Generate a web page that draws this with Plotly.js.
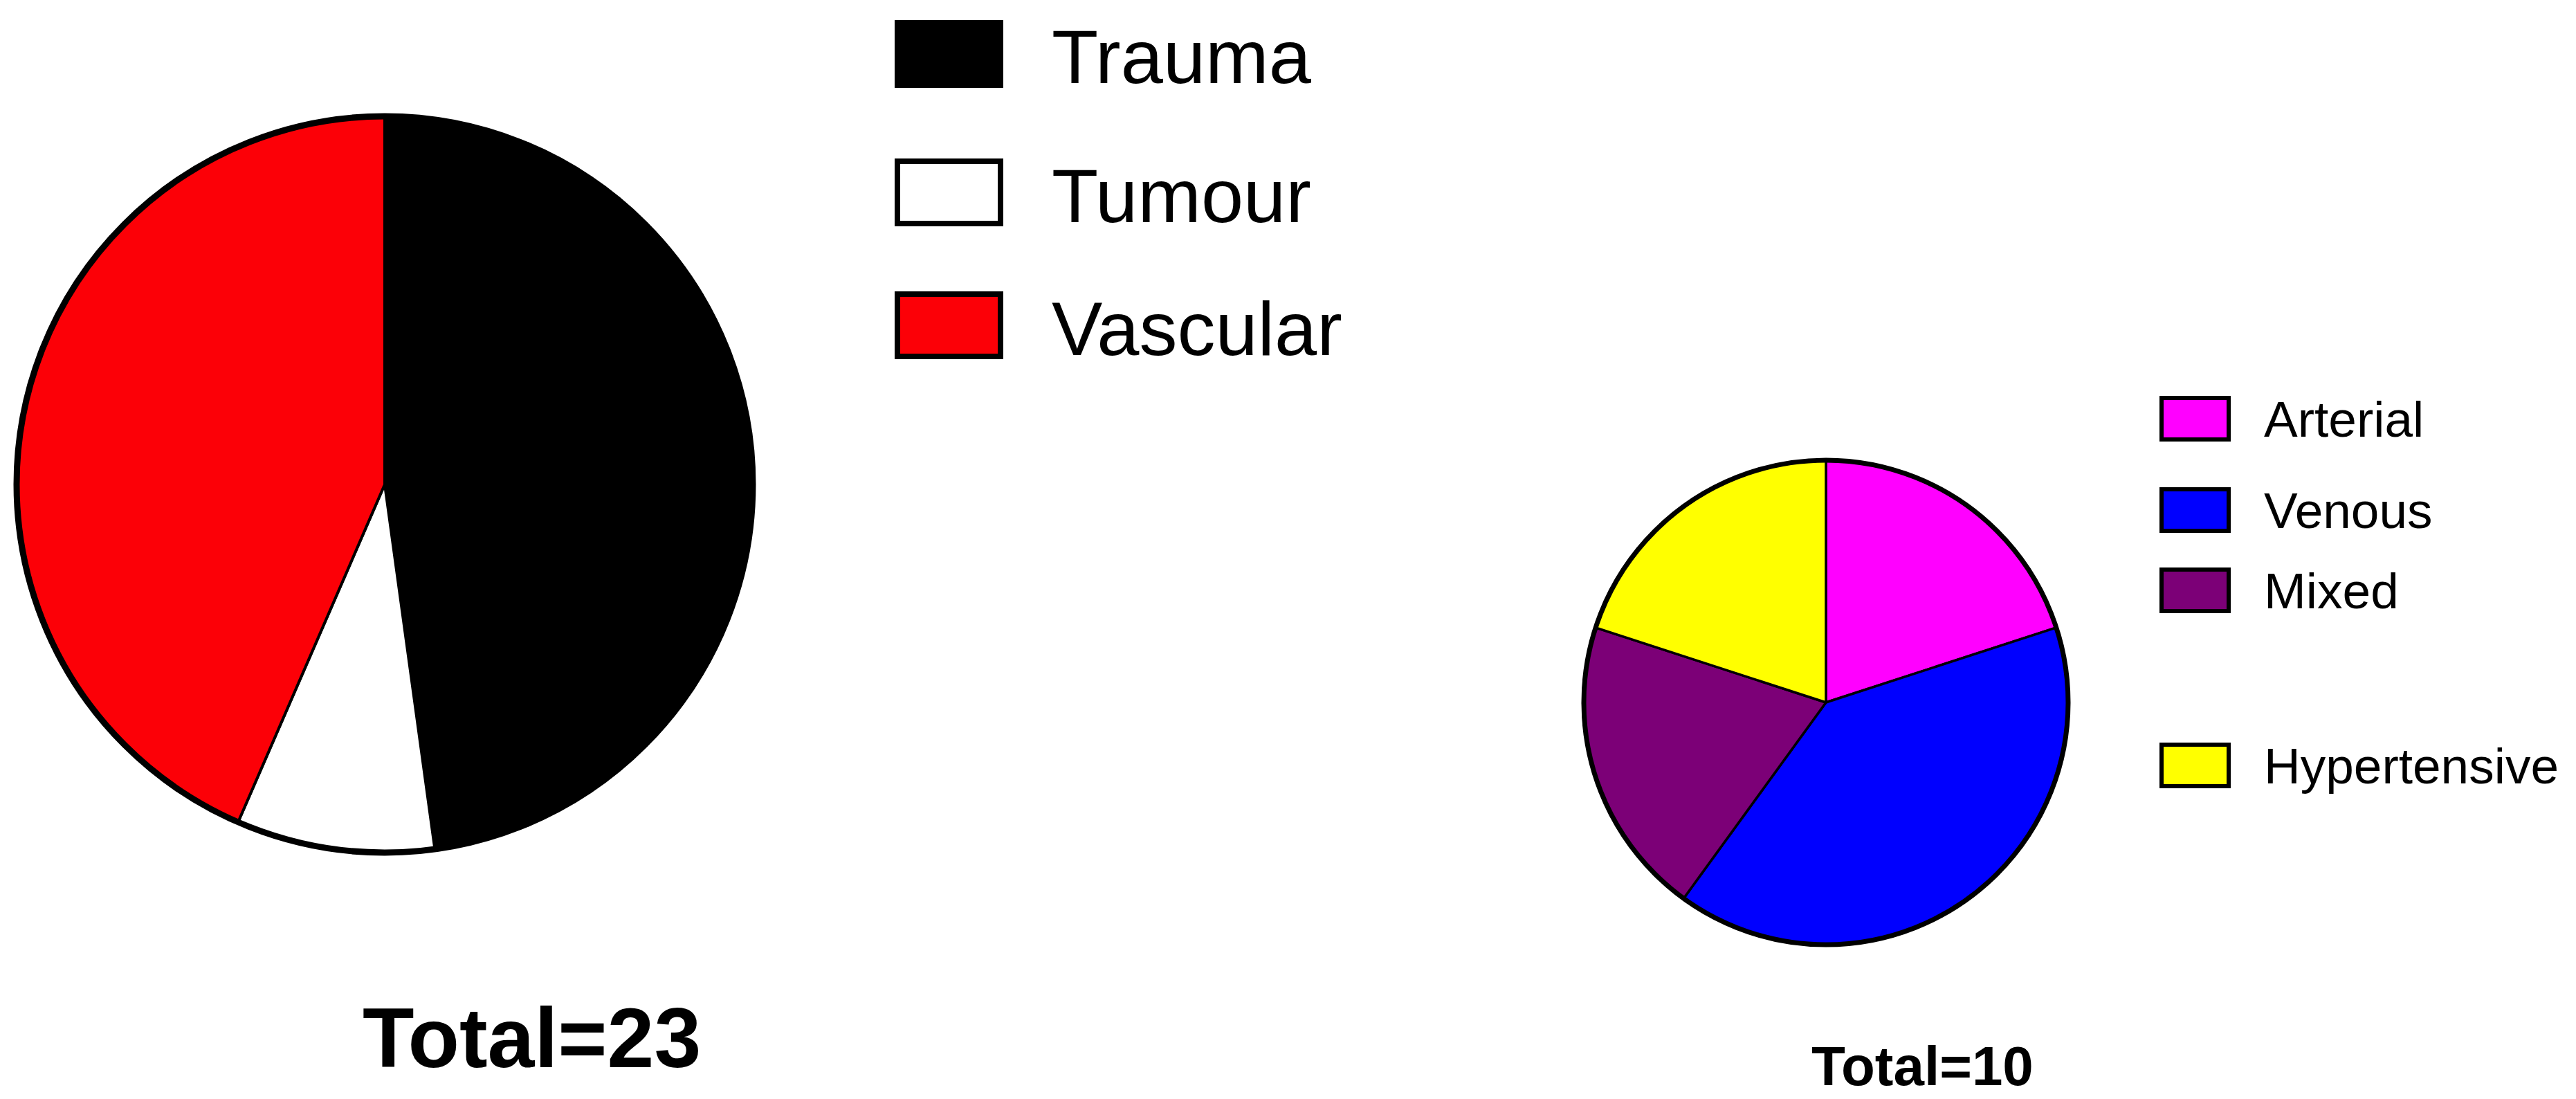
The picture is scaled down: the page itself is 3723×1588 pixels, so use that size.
<!DOCTYPE html>
<html><head><meta charset="utf-8">
<script src="https://cdn.plot.ly/plotly-3.0.1.min.js"></script>
<style>html,body{margin:0;padding:0;background:#fff;overflow:hidden}</style>
</head><body><div id="chart" style="width:3723px;height:1588px"></div>
<script>
// ---- data ----
const causeLabels = ['Trauma', 'Tumour', 'Vascular'];
const causeValues = [11, 2, 10];
const causeColors = ['#000000', '#ffffff', '#fc0007'];
const causeTotal = 'Total=23';

const vascLabels = ['Arterial', 'Venous', 'Mixed', 'Hypertensive'];
const vascValues = [2, 4, 2, 2];
const vascColors = ['#ff00ff', '#0000ff', '#7c0077', '#ffff00'];
const vascTotal = 'Total=10';

// ---- layout helpers (pixel -> paper) ----
const W = 3723, H = 1588;
const px = x => x / W;
const py = y => 1 - y / H;
const FONT = 'Liberation Sans, Arial, Helvetica, sans-serif';

function pieDomain(cx, cy, r) {
  return { x: [px(cx - r), px(cx + r)], y: [py(cy + r), py(cy - r)] };
}

const leftPie = { cx: 556, cy: 700, r: 532, inner: 4, outer: 9 };
const rightPie = { cx: 2639, cy: 1015, r: 350, inner: 3.5, outer: 7 };

const traces = [
  {
    type: 'pie', labels: causeLabels, values: causeValues, sort: false,
    direction: 'clockwise', rotation: 0, textinfo: 'none', hoverinfo: 'label+value',
    marker: { colors: causeColors, line: { color: '#000000', width: leftPie.inner } },
    domain: pieDomain(leftPie.cx, leftPie.cy, leftPie.r), showlegend: false
  },
  {
    type: 'pie', labels: vascLabels, values: vascValues, sort: false,
    direction: 'clockwise', rotation: 0, textinfo: 'none', hoverinfo: 'label+value',
    marker: { colors: vascColors, line: { color: '#000000', width: rightPie.inner } },
    domain: pieDomain(rightPie.cx, rightPie.cy, rightPie.r), showlegend: false
  }
];

const shapes = [];
const annotations = [];

// outer rings of the pies
[leftPie, rightPie].forEach(p => {
  shapes.push({ type: 'circle', xref: 'paper', yref: 'paper', layer: 'above',
    x0: px(p.cx - p.r), x1: px(p.cx + p.r), y0: py(p.cy + p.r), y1: py(p.cy - p.r),
    fillcolor: 'rgba(0,0,0,0)', line: { color: '#000000', width: p.outer } });
});

// legend 1 (large)
const leg1 = { x0: 1297, x1: 1446, h: 90, ys: [78, 278, 470], tx: 1518, size: 110, lw: 8 };
causeLabels.forEach((lab, i) => {
  const yc = leg1.ys[i];
  shapes.push({ type: 'rect', xref: 'paper', yref: 'paper',
    x0: px(leg1.x0), x1: px(leg1.x1), y0: py(yc + leg1.h / 2), y1: py(yc - leg1.h / 2),
    fillcolor: causeColors[i], line: { color: '#000000', width: leg1.lw } });
  annotations.push({ xref: 'paper', yref: 'paper', x: px(leg1.tx), y: py(yc + 4),
    xanchor: 'left', yanchor: 'middle', showarrow: false, text: lab,
    font: { family: FONT, size: leg1.size, color: '#000000' } });
});

// legend 2 (small)
const leg2 = { x0: 3124, x1: 3221, h: 60, ys: [605, 737, 853, 1106], tx: 3270, size: 73, lw: 6 };
vascLabels.forEach((lab, i) => {
  const yc = leg2.ys[i];
  shapes.push({ type: 'rect', xref: 'paper', yref: 'paper',
    x0: px(leg2.x0), x1: px(leg2.x1), y0: py(yc + leg2.h / 2), y1: py(yc - leg2.h / 2),
    fillcolor: vascColors[i], line: { color: '#000000', width: leg2.lw } });
  annotations.push({ xref: 'paper', yref: 'paper', x: px(leg2.tx), y: py(yc),
    xanchor: 'left', yanchor: 'middle', showarrow: false, text: lab,
    font: { family: FONT, size: leg2.size, color: '#000000' } });
});

// totals
annotations.push({ xref: 'paper', yref: 'paper', x: px(768), y: py(1500),
  xanchor: 'center', yanchor: 'middle', showarrow: false, text: '<b>' + causeTotal + '</b>',
  font: { family: FONT, size: 122, color: '#000000' } });
annotations.push({ xref: 'paper', yref: 'paper', x: px(2778), y: py(1540),
  xanchor: 'center', yanchor: 'middle', showarrow: false, text: '<b>' + vascTotal + '</b>',
  font: { family: FONT, size: 80, color: '#000000' } });

const layout = {
  width: W, height: H,
  margin: { l: 0, r: 0, t: 0, b: 0, pad: 0 },
  paper_bgcolor: '#ffffff', plot_bgcolor: '#ffffff',
  showlegend: false,
  shapes: shapes,
  annotations: annotations
};

Plotly.newPlot('chart', traces, layout, { displayModeBar: false, staticPlot: true });
</script>
</body></html>
